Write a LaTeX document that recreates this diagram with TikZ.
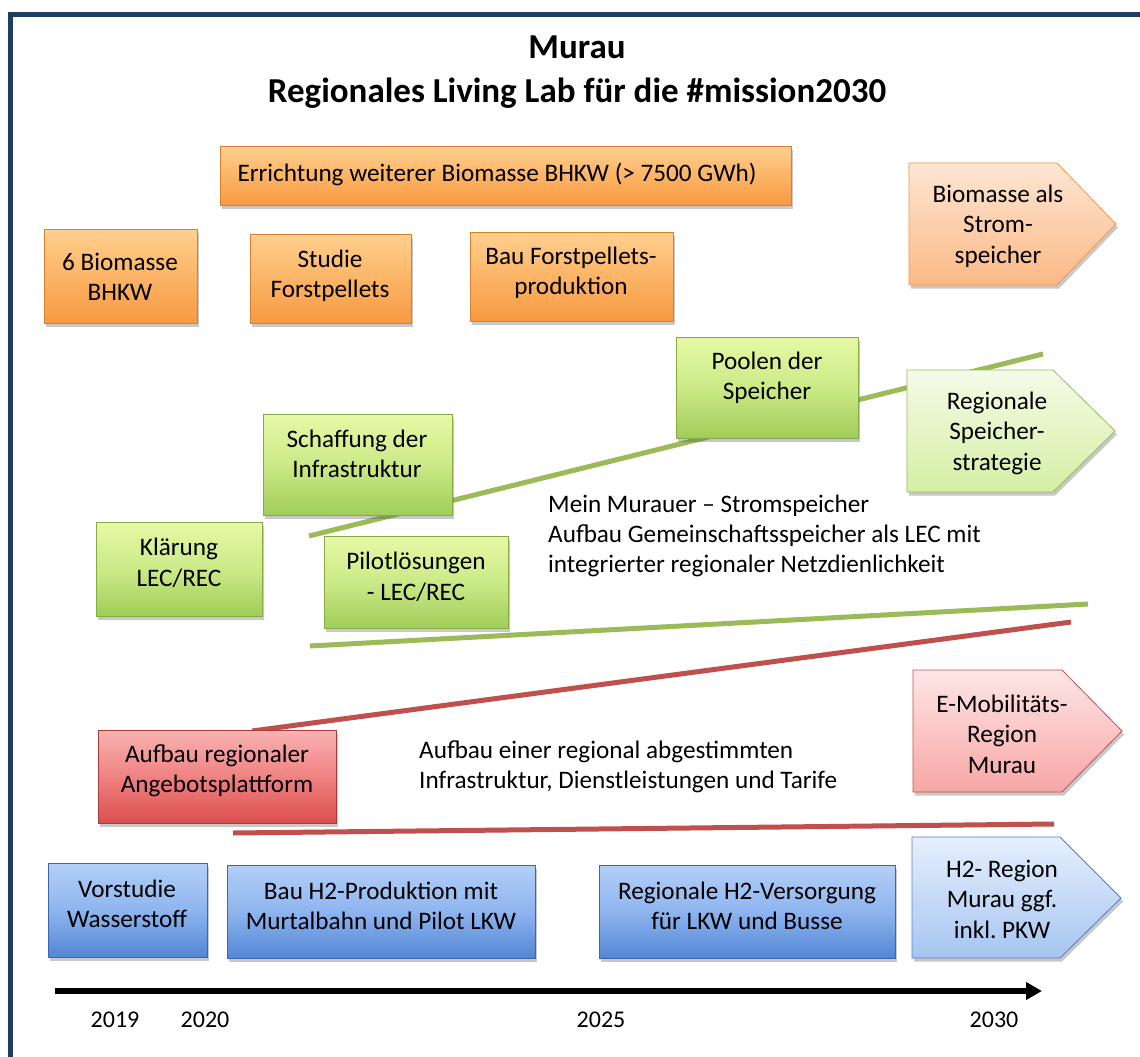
\documentclass[tikz,border=0pt]{standalone}
\usepackage{fontspec}
\setmainfont{Carlito}
\usetikzlibrary{arrows.meta,shadows,fit}
\frenchspacing
\definecolor{Frame}{HTML}{1F3D63}
\definecolor{OrT}{HTML}{FFD08F}\definecolor{OrM}{HTML}{FCB466}\definecolor{OrB}{HTML}{F79A42}\definecolor{OrD}{HTML}{D9802E}
\definecolor{GrT}{HTML}{E6F9A6}\definecolor{GrM}{HTML}{CBEA87}\definecolor{GrB}{HTML}{A0CD59}\definecolor{GrD}{HTML}{86AB45}
\definecolor{ReT}{HTML}{FAB2B2}\definecolor{ReM}{HTML}{F08282}\definecolor{ReB}{HTML}{DB4F4E}\definecolor{ReD}{HTML}{A83A38}
\definecolor{BlT}{HTML}{B2CFF7}\definecolor{BlM}{HTML}{8FB5EF}\definecolor{BlB}{HTML}{5286D5}\definecolor{BlD}{HTML}{3A66AE}
\definecolor{POT}{HTML}{FDE6D4}\definecolor{POB}{HTML}{FBB985}\definecolor{POD}{HTML}{F79646}
\definecolor{PGT}{HTML}{F5FBE8}\definecolor{PGB}{HTML}{D4EFA3}\definecolor{PGD}{HTML}{9BBB59}
\definecolor{PRT}{HTML}{FDE6E6}\definecolor{PRB}{HTML}{F8A6A5}\definecolor{PRD}{HTML}{C0504D}
\definecolor{PBT}{HTML}{E6EFFC}\definecolor{PBB}{HTML}{A6C5F2}\definecolor{PBD}{HTML}{4F81BD}
\definecolor{LGreen}{HTML}{9BBB59}\definecolor{LRed}{HTML}{C0504D}
\begin{document}
\begin{tikzpicture}[x=1pt,y=-1pt,
  boxbase/.style={draw, line width=0.8pt, inner sep=0pt,
    drop shadow={shadow xshift=2pt,shadow yshift=-3.5pt,opacity=0.3,fill=black!70}},
  obox/.style={boxbase, draw=OrD, top color=OrT, bottom color=OrB, middle color=OrM},
  gbox/.style={boxbase, draw=GrD, top color=GrT, bottom color=GrB, middle color=GrM},
  rbox/.style={boxbase, draw=ReD, top color=ReT, bottom color=ReB, middle color=ReM},
  ubox/.style={boxbase, draw=BlD, top color=BlT, bottom color=BlB, middle color=BlM},
  opent/.style={boxbase, draw=POD, top color=POT, bottom color=POB},
  gpent/.style={boxbase, draw=PGD, top color=PGT, bottom color=PGB},
  rpent/.style={boxbase, draw=PRD, top color=PRT, bottom color=PRB},
  upent/.style={boxbase, draw=PBD, top color=PBT, bottom color=PBB},
  txt/.style={font=\fontsize{25.2}{30.5}\selectfont, align=center, inner sep=0pt, text=black},
  ltxt/.style={font=\fontsize{25.2}{30}\selectfont, align=left, inner sep=0pt, anchor=west, text=black},
  ytxt/.style={font=\fontsize{24}{29}\selectfont, inner sep=0pt, text=black},
  gline/.style={draw=LGreen, line width=5pt},
  rline/.style={draw=LRed, line width=5pt},
]
\useasboundingbox (0,0) rectangle (1140,1057);
\fill[white] (0,0) rectangle (1140,1057);
\draw[Frame, line width=5pt] (10.5,14.5) rectangle (1180,1100);

% title
\node[font=\bfseries\fontsize{35}{44}\selectfont, align=center, inner sep=0pt] (title) at (577,72)
  {Murau\\Regionales Living Lab für die \#mission2030};

% timeline lines (behind boxes)
\coordinate (ga1) at (309,536); \coordinate (ga2) at (1043,354);
\coordinate (gb1) at (310,646); \coordinate (gb2) at (1088,604);
\coordinate (ra1) at (252,731); \coordinate (ra2) at (1071,622);
\coordinate (rb1) at (233,833); \coordinate (rb2) at (1054,824);
\draw[gline] (ga1) -- (ga2);
\draw[gline] (gb1) -- (gb2);
\draw[rline] (ra1) -- (ra2);
\draw[rline] (rb1) -- (rb2);

% orange row
\node[obox, fit={(220,146) (791,205)}] (b1) {};
\node[txt] (b1t) at (497,174) {Errichtung weiterer Biomasse BHKW (> 7500 GWh)};
\node[obox, fit={(44,229) (197,323)}] (b2) {};
\node[txt] (b2t) at (120,277) {6 Biomasse\\BHKW};
\node[obox, fit={(250,234) (411,323)}] (b3) {};
\node[txt] (b3t) at (330,276) {Studie\\Forstpellets};
\node[obox, fit={(470,232) (673,321)}] (b4) {};
\node[txt] (b4t) at (571,273) {Bau Forstpellets-\\produktion};
\path[opent] (909,163) -- (1057,163) -- (1116,224) -- (1057,285) -- (909,285) -- cycle;
\node[txt] (p1t) at (998,226) {Biomasse als\\Strom-\\speicher};

% green row
\node[gbox, fit={(676,337) (858,438)}] (g1) {};
\node[txt] (g1t) at (767,378) {Poolen der\\Speicher};
\node[gbox, fit={(263,414) (452,515)}] (g2) {};
\node[txt] (g2t) at (357,454) {Schaffung der\\Infrastruktur};
\node[gbox, fit={(96,522) (262,616)}] (g3) {};
\node[txt] (g3t) at (179,563) {Klärung\\LEC/REC};
\node[gbox, fit={(324,536) (508,628)}] (g4) {};
\node[txt] (g4t) at (416,577) {Pilotlösungen\\- LEC/REC};
\path[gpent] (907,370) -- (1053,370) -- (1115,431) -- (1053,492) -- (907,492) -- cycle;
\node[txt] (p2t) at (997,433) {Regionale\\Speicher-\\strategie};
\node[ltxt] (gtext) at (548,536) {Mein Murauer – Stromspeicher\\Aufbau Gemeinschaftsspeicher als LEC mit\\integrierter regionaler Netzdienlichkeit};

% red row
\node[rbox, fit={(98,730) (336,823)}] (r1) {};
\node[txt] (r1t) at (217,771) {Aufbau regionaler\\Angebotsplattform};
\path[rpent] (913,670) -- (1062,670) -- (1122,731) -- (1062,792) -- (913,792) -- cycle;
\node[txt] (p3t) at (1002,734) {E-Mobilitäts-\\Region\\Murau};
\node[ltxt] (rtext) at (419,767) {Aufbau einer regional abgestimmten\\Infrastruktur, Dienstleistungen und Tarife};

% blue row
\node[ubox, fit={(48,863) (207,957)}] (u1) {};
\node[txt] (u1t) at (127,904) {Vorstudie\\Wasserstoff};
\node[ubox, fit={(227,865) (535,958)}] (u2) {};
\node[txt] (u2t) at (381,906) {Bau H2-Produktion mit\\Murtalbahn und Pilot LKW};
\node[ubox, fit={(599,865) (895,958)}] (u3) {};
\node[txt] (u3t) at (747,906) {Regionale H2-Versorgung\\für LKW und Busse};
\path[upent] (912,837) -- (1060,837) -- (1121,898) -- (1060,958) -- (912,958) -- cycle;
\node[txt] (p4t) at (1002,899) {H2- Region\\Murau ggf.\\inkl. PKW};

% time axis
\coordinate (axs) at (55,991); \coordinate (axe) at (1042,991);
\draw[line width=6pt, -{Triangle[length=16pt,width=17pt]}] (axs) -- (axe);
\node[ytxt] (y19) at (115,1020) {2019};
\node[ytxt] (y20) at (205,1020) {2020};
\node[ytxt] (y25) at (601,1020) {2025};
\node[ytxt] (y30) at (994,1020) {2030};
\end{tikzpicture}
\end{document}
